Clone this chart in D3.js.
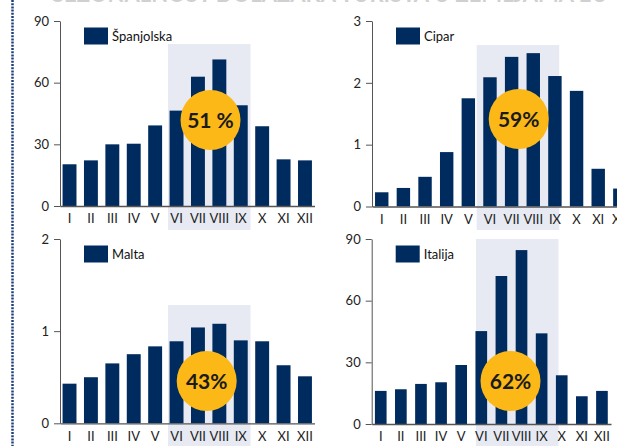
<!DOCTYPE html>
<html>
<head>
<meta charset="utf-8">
<script src="https://cdn.jsdelivr.net/npm/d3@7"></script>
<style>
  body { margin: 0; background: #fff; overflow: hidden; }
  svg { display: block; font-family: Lato, "Open Sans", sans-serif; }
</style>
</head>
<body>
<script>
// Mjeseci (rimski brojevi)
var mjeseci = ["I", "II", "III", "IV", "V", "VI", "VII", "VIII", "IX", "X", "XI", "XII"];

// Vrijednosti po zemljama
var spanjolska = [20.3, 22.2, 30.0, 30.3, 39.2, 46.4, 62.9, 71.3, 49.0, 38.8, 22.7, 22.2];
var cipar      = [0.23, 0.30, 0.48, 0.88, 1.75, 2.09, 2.42, 2.48, 2.11, 1.87, 0.61, 0.29];
var malta      = [0.43, 0.50, 0.65, 0.75, 0.835, 0.89, 1.04, 1.08, 0.90, 0.89, 0.63, 0.51];
var italija    = [16.1, 16.9, 19.5, 20.3, 28.7, 45.2, 72.0, 84.6, 44.1, 23.7, 13.5, 16.1];

// Osi y i udio ljeta
var ticksSpanjolska = [0, 30, 60, 90];
var ticksCipar = [0, 1, 2, 3];
var ticksMalta = [0, 1, 2];
var ticksItalija = [0, 30, 60, 90];
var udjeli = ["51 %", "59%", "43%", "62%"];

var W = 617, H = 446;
var plava = "#002b5e", zuta = "#fbb817", sjena = "#e7eaf3";

var panels = [
  { naziv: "Španjolska", vrijednosti: spanjolska, ticks: ticksSpanjolska, udio: udjeli[0],
    x0: 60, x1: 314.5, y0: 206, y1: 21, pi: 0.35, po: 0.12, hlOff: 108, hlTop: 44, hlBot: 230, bx: 210.5, by: 120 },
  { naziv: "Cipar", vrijednosti: cipar, ticks: ticksCipar, udio: udjeli[1],
    x0: 372, x1: 629.6, y0: 206.5, y1: 21, pi: 0.38, po: 0.14, hlOff: 104.7, hlTop: 45, hlBot: 230, bx: 518.7, by: 119 },
  { naziv: "Malta", vrijednosti: malta, ticks: ticksMalta, udio: udjeli[2],
    x0: 60, x1: 314.5, y0: 423.3, y1: 239, pi: 0.35, po: 0.12, hlOff: 108, hlTop: 305, hlBot: 446, bx: 206.7, by: 381 },
  { naziv: "Italija", vrijednosti: italija, ticks: ticksItalija, udio: udjeli[3],
    x0: 371.7, x1: 611, y0: 424, y1: 239, pi: 0.42, po: 0.16, hlOff: 104.3, hlTop: 239, hlBot: 446, bx: 510.5, by: 381 }
];

var svg = d3.select("body").append("svg")
            .attr("width", W)
            .attr("height", H);

// Naslov (odrezan na vrhu)
svg.append("text")
   .attr("x", 52)
   .attr("y", 2)
   .attr("font-size", 22)
   .attr("font-weight", "bold")
   .attr("fill", "#d0d0d0")
   .text("SEZONALNOST DOLAZAKA TURISTA U ZEMLJAMA EU");

// Točkasti rub lijevo
svg.append("line")
   .attr("x1", 12.5).attr("x2", 12.5)
   .attr("y1", 0).attr("y2", H)
   .attr("stroke", "#1d3f7e")
   .attr("stroke-width", 2.5)
   .attr("stroke-dasharray", "2,1.2");

panels.forEach(function(p) {
    var g = svg.append("g");
    var max = p.ticks[p.ticks.length - 1];

    var x = d3.scaleBand()
              .domain(mjeseci)
              .range([p.x0, p.x1])
              .paddingInner(p.pi)
              .paddingOuter(p.po);
    var y = d3.scaleLinear()
              .domain([0, max])
              .range([p.y0, p.y1]);

    // Sjena za ljetne mjesece
    g.append("rect")
     .attr("x", p.x0 + p.hlOff)
     .attr("y", p.hlTop)
     .attr("width", 82.5)
     .attr("height", p.hlBot - p.hlTop)
     .attr("fill", sjena);

    // Stupci
    g.selectAll("rect.bar")
     .data(p.vrijednosti)
     .enter().append("rect")
     .attr("class", "bar")
     .attr("x", function(d, i) { return x(mjeseci[i]); })
     .attr("y", function(d) { return y(d); })
     .attr("width", x.bandwidth())
     .attr("height", function(d) { return p.y0 - y(d); })
     .attr("fill", plava);

    // Os y
    var osY = g.append("g")
               .attr("transform", "translate(" + p.x0 + ",0)")
               .call(d3.axisLeft(y).tickValues(p.ticks).tickFormat(d3.format("d"))
                       .tickSize(6).tickPadding(5).tickSizeOuter(0));
    osY.select(".domain").attr("stroke", "#555");
    osY.selectAll(".tick line").attr("stroke", "#555");
    osY.selectAll("text").attr("font-size", 13).attr("fill", "#222").attr("font-family", "Lato, sans-serif");

    // Os x
    var osX = g.append("g")
               .attr("transform", "translate(0," + p.y0 + ")")
               .call(d3.axisBottom(x).tickSize(0).tickPadding(8));
    osX.select(".domain").attr("stroke", "#555").attr("stroke-width", 1.3);
    osX.selectAll("text").attr("font-size", 13).attr("fill", "#222").attr("font-family", "Lato, sans-serif");

    // Legenda
    g.append("rect")
     .attr("x", p.x0 + 24)
     .attr("y", p.y1 + 6.5)
     .attr("width", 24)
     .attr("height", 17)
     .attr("fill", plava);
    g.append("text")
     .attr("x", p.x0 + 52)
     .attr("y", p.y1 + 15)
     .attr("dy", "0.35em")
     .attr("font-size", 13)
     .attr("fill", "#111")
     .text(p.naziv);

    // Krug s udjelom
    g.append("circle")
     .attr("cx", p.bx)
     .attr("cy", p.by)
     .attr("r", 30)
     .attr("fill", zuta);
    g.append("text")
     .attr("x", p.bx)
     .attr("y", p.by)
     .attr("dy", "0.36em")
     .attr("text-anchor", "middle")
     .attr("font-size", 21)
     .attr("font-weight", "bold")
     .attr("fill", "#1a1a1a")
     .text(p.udio);
});
</script>
</body>
</html>
